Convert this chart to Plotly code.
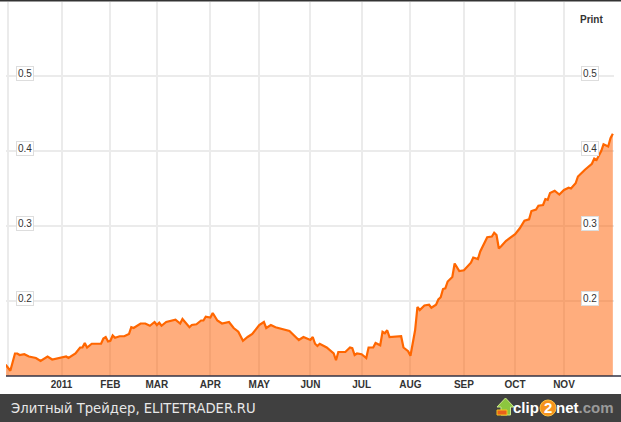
import plotly.graph_objects as go

# x = weekdays counted from 1 Dec 2010 (the axis skips weekends)
weekday = [-1,1,3,4,5,7,9,12,14,17,19,23,25,26,29,31,32,33,34,36,40,41,42,43,44,45,46,48,50,52,53,54,57,59,61,63,64,65,66,68,72,74,75,78,79,81,83,84,85,87,88,90,92,95,97,99,101,103,105,108,110,111,113,115,118,121,122,125,127,130,131,132,133,134,137,140,141,142,145,147,148,149,150,152,154,155,157,158,160,161,162,163,164,169,170,172,173,174,175,176,177,179,181,182,184,185,186,187,188,189,191,192,194,196,199,200,202,203,204,206,208,209,210,211,212,214,218,220,222,224,225,227,228,230,231,232,233,235,237,239,241,242,244,245,248,251,252,253,255,256,258,259,260]
rate = [.115,.107,.130,.130,.128,.129,.126,.124,.120,.126,.122,.124,.126,.124,.130,.138,.138,.144,.138,.143,.143,.150,.152,.146,.147,.154,.151,.153,.153,.156,.165,.164,.170,.170,.167,.172,.168,.171,.167,.172,.175,.170,.176,.165,.168,.169,.174,.174,.179,.178,.184,.174,.170,.172,.164,.159,.147,.152,.156,.168,.172,.164,.168,.165,.162,.160,.157,.148,.152,.148,.152,.143,.140,.143,.138,.130,.121,.132,.132,.138,.137,.128,.130,.129,.124,.138,.138,.144,.141,.159,.157,.161,.152,.153,.138,.133,.127,.146,.161,.192,.188,.194,.195,.191,.195,.202,.205,.216,.217,.226,.232,.250,.240,.241,.251,.258,.256,.266,.272,.285,.286,.291,.288,.270,.273,.280,.289,.297,.307,.309,.320,.322,.327,.328,.336,.335,.344,.347,.342,.348,.351,.350,.357,.366,.375,.383,.390,.388,.400,.409,.406,.417,.423]
month_weekday = [0,23,44,64,87,108,130,152,173,196,218,239]
month_labels = ["","<b>2011</b>","<b>FEB</b>","<b>MAR</b>","<b>APR</b>","<b>MAY</b>","<b>JUN</b>","<b>JUL</b>","<b>AUG</b>","<b>SEP</b>","<b>OCT</b>","<b>NOV</b>"]
y_ticks = [0.2,0.3,0.4,0.5]
footer_text = "Элитный Трейдер, ELITETRADER.RU"

W, H = 621, 422
px = lambda x: x / W
py = lambda y: 1 - y / H
GRID = "#EBEBEB"

fig = go.Figure(go.Scatter(
    x=weekday, y=rate, mode="lines",
    line=dict(color="#FF6600", width=2.2),
    fill="tozeroy", fillcolor="rgba(255,94,0,0.51)", hoverinfo="skip"))

shapes = [
    dict(type="rect", xref="paper", yref="paper", x0=0, x1=1, y0=py(1.5), y1=1,
         fillcolor="#333333", line_width=0),
    dict(type="line", xref="paper", yref="paper", x0=px(6), x1=1, y0=py(376), y1=py(376),
         line=dict(color="#333344", width=1.5)),
    dict(type="rect", xref="paper", yref="paper", x0=0, x1=1, y0=0, y1=py(394),
         fillcolor="#404040", line_width=0),
    dict(type="circle", xref="paper", yref="paper", x0=px(540), x1=px(556), y0=py(416), y1=py(400),
         fillcolor="#F7941D", line=dict(color="#F9C040", width=1)),
    dict(type="path", xref="paper", yref="paper",
         path="M %f %f L %f %f L %f %f L %f %f L %f %f L %f %f L %f %f Z" % (
             px(505.5), py(398), px(514), py(407), px(510.5), py(407), px(510.5), py(415),
             px(501), py(415), px(501), py(407), px(497), py(407)),
         fillcolor="#8CC63F", line=dict(color="#CDE88A", width=1)),
    dict(type="rect", xref="paper", yref="paper", x0=px(497), x1=px(507), y0=py(415), y1=py(410),
         fillcolor="#E8601C", line=dict(color="#F5C518", width=1)),
]

annotations = [
    dict(xref="paper", yref="paper", x=px(578), y=py(19.5), xanchor="left", yanchor="middle",
         text="<b>Print</b>", showarrow=False,
         font=dict(family="Liberation Sans", size=10, color="#333333")),
    dict(xref="paper", yref="paper", x=px(9), y=py(408), xanchor="left", yanchor="middle",
         text=footer_text, showarrow=False,
         font=dict(family="DejaVu Sans", size=13.2, color="#E8E8E8")),
    dict(xref="paper", yref="paper", x=px(541), y=py(407.5), xanchor="right", yanchor="middle",
         text="<b>clip</b>", showarrow=False, font=dict(family="Liberation Sans", size=15, color="#FFFFFF")),
    dict(xref="paper", yref="paper", x=px(548), y=py(407.5), xanchor="center", yanchor="middle",
         text="<b>2</b>", showarrow=False, font=dict(family="Liberation Sans", size=15, color="#FFFFFF")),
    dict(xref="paper", yref="paper", x=px(554), y=py(407.5), xanchor="left", yanchor="middle",
         text="<b>net<span style='color:#9A9A9A'>.com</span></b>", showarrow=False,
         font=dict(family="Liberation Sans", size=15, color="#FFFFFF")),
]
for v in y_ticks:
    for xp in (25, 590):
        annotations.append(dict(
            xref="paper", yref="y", x=px(xp), y=v, yshift=3, xanchor="center", yanchor="middle",
            text="%.1f" % v, showarrow=False, bgcolor="#FFFFFF",
            bordercolor="#DDDDDD", borderwidth=1, borderpad=1,
            font=dict(family="Liberation Sans", size=10, color="#333333")))

fig.update_layout(
    width=W, height=H, margin=dict(l=0, r=0, t=0, b=0),
    paper_bgcolor="#FFFFFF", plot_bgcolor="#FFFFFF", showlegend=False,
    shapes=shapes, annotations=annotations,
    xaxis=dict(domain=[px(6), px(614)], range=[-0.86, 260.5], tickmode="array",
               tickvals=month_weekday, ticktext=month_labels, showgrid=True,
               gridcolor=GRID, gridwidth=2, zeroline=False, ticks="", showline=False,
               ticklabelstandoff=1,
               tickfont=dict(family="Liberation Sans", size=10, color="#333333")),
    yaxis=dict(domain=[py(376), py(2)], range=[0.1, 0.5987], tickmode="array",
               tickvals=y_ticks, showticklabels=False, showgrid=True,
               gridcolor=GRID, gridwidth=2, zeroline=False, ticks="", showline=False),
)
fig.write_html("out.html", config={"displayModeBar": False},
               post_script="document.body.style.margin='0';document.body.style.overflow='hidden';")
